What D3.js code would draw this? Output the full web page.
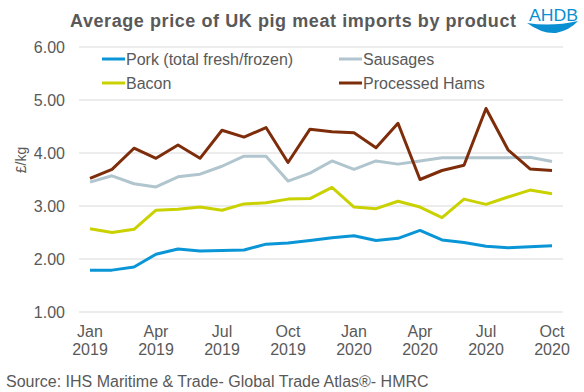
<!DOCTYPE html>
<html><head><meta charset="utf-8">
<script src="https://cdn.jsdelivr.net/npm/d3@7"></script>
<style>body{margin:0;background:#fff}svg{display:block}text{font-family:"Liberation Sans",Arial,sans-serif}</style>
</head><body><svg id="c" width="584" height="392"></svg>
<script>
const months = ["Jan 2019","Feb 2019","Mar 2019","Apr 2019","May 2019","Jun 2019","Jul 2019","Aug 2019","Sep 2019","Oct 2019","Nov 2019","Dec 2019",
  "Jan 2020","Feb 2020","Mar 2020","Apr 2020","May 2020","Jun 2020","Jul 2020","Aug 2020","Sep 2020","Oct 2020"];
const pork     = [1.79,1.79,1.85,2.09,2.19,2.15,2.16,2.17,2.28,2.30,2.35,2.40,2.44,2.35,2.39,2.54,2.36,2.31,2.24,2.21,2.23,2.25];
const sausages = [3.45,3.57,3.42,3.36,3.55,3.60,3.75,3.94,3.94,3.47,3.62,3.85,3.69,3.85,3.79,3.85,3.91,3.91,3.91,3.91,3.92,3.84];
const bacon    = [2.57,2.50,2.56,2.92,2.94,2.98,2.92,3.04,3.06,3.13,3.14,3.35,2.98,2.95,3.09,2.98,2.78,3.13,3.03,3.17,3.30,3.23];
const hams     = [3.52,3.69,4.09,3.90,4.15,3.90,4.43,4.30,4.48,3.82,4.45,4.40,4.38,4.10,4.56,3.50,3.67,3.77,4.84,4.06,3.70,3.67];
const yTicks = [1,2,3,4,5,6];
const xTickMonths = ["Jan 2019","Apr 2019","Jul 2019","Oct 2019","Jan 2020","Apr 2020","Jul 2020","Oct 2020"];
const seriesNames = ["Pork (total fresh/frozen)","Sausages","Bacon","Processed Hams"];
const seriesColors = ["#0a96d6","#b0c5cd","#c9d200","#7e2d0b"];
const seriesData = [pork, sausages, bacon, hams];

const svg = d3.select("#c");
const txt = "#595959";
const x = d3.scaleBand().domain(months).range([79,563]);
const y = d3.scaleLinear().domain([1,6]).range([312,47]);

// grid
svg.append("g").selectAll("line").data(yTicks).join("line")
  .attr("x1",79).attr("x2",563).attr("y1",d=>y(d)).attr("y2",d=>y(d))
  .attr("stroke","#d9d9d9").attr("stroke-width",1);

// y labels
svg.append("g").selectAll("text").data(yTicks).join("text")
  .attr("x",65).attr("y",d=>y(d)).attr("dy","0.36em").attr("text-anchor","end")
  .attr("font-size",16).attr("fill",txt).text(d=>d.toFixed(2));

// x labels
const xl = svg.append("g").selectAll("text").data(xTickMonths).join("text")
  .attr("text-anchor","middle").attr("font-size",16).attr("fill",txt)
  .attr("transform",d=>`translate(${x(d)+x.bandwidth()/2},0)`);
xl.append("tspan").attr("x",0).attr("y",337).text(d=>d.split(" ")[0]);
xl.append("tspan").attr("x",0).attr("y",355).text(d=>d.split(" ")[1]);

// y title
svg.append("text").attr("transform","translate(26,160) rotate(-90)")
  .attr("text-anchor","middle").attr("font-size",14).attr("fill",txt).text("£/kg");

// lines
const line = d3.line().x((d,i)=>x(months[i])+x.bandwidth()/2).y(d=>y(d));
[1,2,0,3].forEach(k=>{
  svg.append("path").datum(seriesData[k]).attr("d",line).attr("fill","none")
    .attr("stroke",seriesColors[k]).attr("stroke-width",3).attr("stroke-linejoin","round");
});

// legend
const legPos = [[102,59],[339,59],[102,83],[339,83]];
seriesNames.forEach((n,i)=>{
  const [lx,ly]=legPos[i];
  svg.append("line").attr("x1",lx).attr("x2",lx+23).attr("y1",ly).attr("y2",ly)
    .attr("stroke",seriesColors[i]).attr("stroke-width",3);
  svg.append("text").attr("x",lx+24).attr("y",ly).attr("dy","0.36em")
    .attr("font-size",16).attr("fill",txt).text(n);
});

// title
svg.append("text").attr("x",70).attr("y",27)
  .attr("font-size",18).attr("font-weight","bold").attr("fill",txt)
  .attr("textLength",446).attr("lengthAdjust","spacing")
  .text("Average price of UK pig meat imports by product");

// logo
svg.append("text").attr("x",529).attr("y",21).attr("font-size",16).attr("fill","#0a8fd2")
  .attr("textLength",49).attr("lengthAdjust","spacingAndGlyphs").text("AHDB");
svg.append("path").attr("d","M527,23 Q552,27 578,21 Q570,30 556,33 Q542,34 527,23 Z")
  .attr("fill","#0a8fd2");

// source
svg.append("text").attr("x",6).attr("y",387).attr("font-size",16).attr("fill",txt)
  .text("Source: IHS Maritime & Trade- Global Trade Atlas®- HMRC");
</script></body></html>
